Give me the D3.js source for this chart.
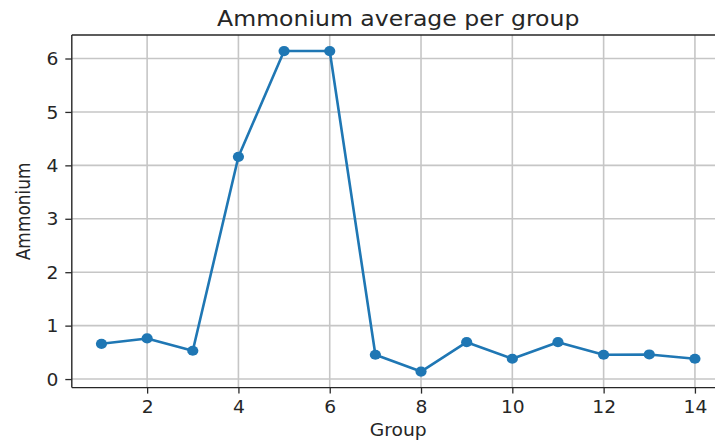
<!DOCTYPE html>
<html>
<head>
<meta charset="utf-8">
<script src="https://cdn.jsdelivr.net/npm/d3@7"></script>
<style>
  html, body { margin: 0; padding: 0; background: #fff; overflow: hidden; }
  svg { display: block; }
  text { font-family: "DejaVu Sans", sans-serif; fill: #262626; }
</style>
</head>
<body>
<svg id="chart" width="715" height="441"></svg>
<script>
// Average ammonium per group
const groups = [1, 2, 3, 4, 5, 6, 7, 8, 9, 10, 11, 12, 13, 14];
const ammonium = [0.66, 0.76, 0.53, 4.16, 6.14, 6.14, 0.455, 0.14, 0.69, 0.38, 0.69, 0.455, 0.46, 0.38];
const xTicks = [2, 4, 6, 8, 10, 12, 14];
const yTicks = [0, 1, 2, 3, 4, 5, 6];

const titleText = "Ammonium average per group";
const xLabel = "Group";
const yLabel = "Ammonium";

const W = 715, H = 441;
const plot = { left: 71.8, right: 724.6, top: 35, bottom: 387.6 };
const sx = 1.1;           // horizontal text stretch
const titleSx = 1.15;
const tickFont = 17, titleFont = 20.5;
const blue = "#1f77b4";

const svg = d3.select("#chart");

// Axis limits with 5% padding on each side of the data
const xPad = (d3.max(groups) - d3.min(groups)) * 0.05;
const yPad = (d3.max(ammonium) - d3.min(ammonium)) * 0.05;
const x = d3.scaleLinear()
  .domain([d3.min(groups) - xPad, d3.max(groups) + xPad])
  .range([plot.left, plot.right]);
const y = d3.scaleLinear()
  .domain([d3.min(ammonium) - yPad, d3.max(ammonium) + yPad])
  .range([plot.bottom, plot.top]);

// Grid
const grid = svg.append("g").attr("class", "grid");
grid.selectAll("line.gx").data(xTicks).join("line")
  .attr("x1", d => x(d)).attr("x2", d => x(d))
  .attr("y1", plot.top).attr("y2", plot.bottom)
  .attr("stroke", "#c6c6c6").attr("stroke-width", 1.6);
grid.selectAll("line.gy").data(yTicks).join("line")
  .attr("x1", plot.left).attr("x2", plot.right)
  .attr("y1", d => y(d)).attr("y2", d => y(d))
  .attr("stroke", "#c6c6c6").attr("stroke-width", 1.6);

// Data line and markers
const line = d3.line().x((d, i) => x(groups[i])).y(d => y(d));
svg.append("path")
  .datum(ammonium)
  .attr("d", line)
  .attr("fill", "none")
  .attr("stroke", blue)
  .attr("stroke-width", 2.6)
  .attr("stroke-linejoin", "round");
svg.append("g").selectAll("ellipse").data(ammonium).join("ellipse")
  .attr("cx", (d, i) => x(groups[i]))
  .attr("cy", d => y(d))
  .attr("rx", 5.6).attr("ry", 5.1)
  .attr("fill", blue);

// Axes
const xAxis = svg.append("g")
  .attr("transform", `translate(0,${plot.bottom})`)
  .call(d3.axisBottom(x).tickValues(xTicks).tickSize(6).tickPadding(4).tickFormat(d3.format("d")));
const yAxis = svg.append("g")
  .attr("transform", `translate(${plot.left},0)`)
  .call(d3.axisLeft(y).tickValues(yTicks).tickSize(6.5).tickPadding(0).tickFormat(d3.format("d")));

[xAxis, yAxis].forEach(a => {
  a.select(".domain").remove();
  a.selectAll(".tick line").attr("stroke", "#2a2a2a").attr("stroke-width", 1.3);
  a.selectAll(".tick text")
    .attr("font-size", tickFont)
    .attr("font-family", "DejaVu Sans, sans-serif")
    .attr("fill", "#262626");
});
xAxis.selectAll(".tick text")
  .attr("y", null).attr("dy", null)
  .attr("transform", `translate(0,25) scale(${sx},1)`);
yAxis.selectAll(".tick text")
  .attr("x", null).attr("dy", "0.36em")
  .attr("transform", `translate(-13.5,0) scale(${sx},1)`);

// Spines (left, bottom, top; right edge lies beyond the canvas)
const spine = svg.append("g").attr("stroke", "#262626").attr("stroke-width", 1.4).attr("fill", "none");
spine.append("line").attr("x1", plot.left).attr("x2", plot.left).attr("y1", plot.top).attr("y2", plot.bottom);
spine.append("line").attr("x1", plot.left).attr("x2", plot.right).attr("y1", plot.bottom).attr("y2", plot.bottom);
spine.append("line").attr("x1", plot.left).attr("x2", plot.right).attr("y1", plot.top).attr("y2", plot.top);
spine.append("line").attr("x1", plot.right).attr("x2", plot.right).attr("y1", plot.top).attr("y2", plot.bottom);

// Title and axis labels
const cx = (plot.left + plot.right) / 2;
svg.append("text")
  .attr("transform", `translate(${cx},26) scale(${titleSx},1)`)
  .attr("text-anchor", "middle")
  .attr("font-size", titleFont)
  .text(titleText);
svg.append("text")
  .attr("transform", `translate(${cx},436) scale(${sx},1)`)
  .attr("text-anchor", "middle")
  .attr("font-size", tickFont)
  .text(xLabel);
svg.append("text")
  .attr("transform", `translate(30,${(plot.top + plot.bottom) / 2}) scale(${sx},1) rotate(-90)`)
  .attr("text-anchor", "middle")
  .attr("font-size", tickFont)
  .text(yLabel);
</script>
</body>
</html>
